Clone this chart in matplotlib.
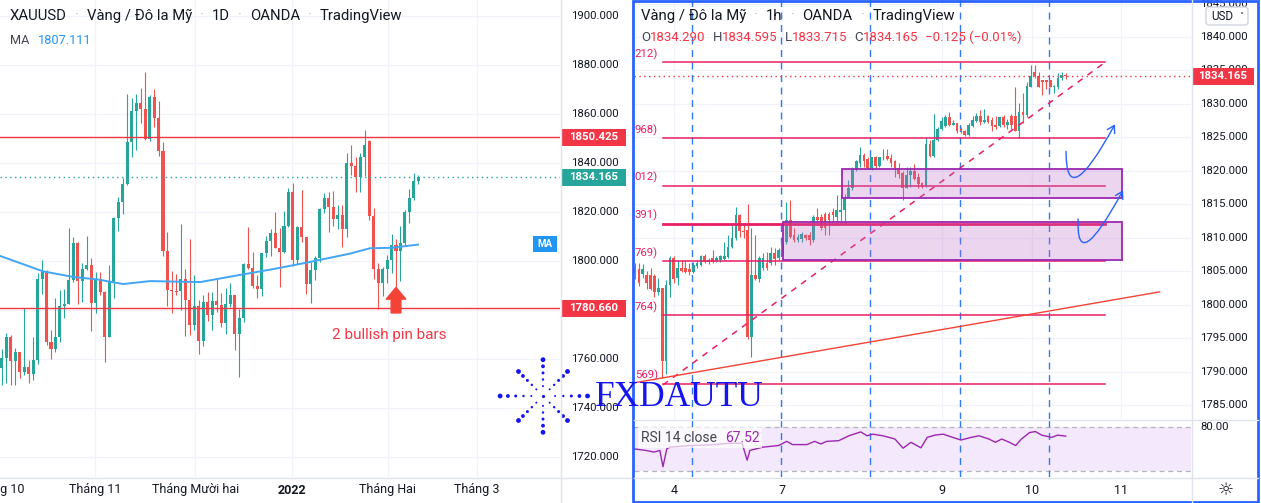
import numpy as np
import matplotlib
matplotlib.use("Agg")
import matplotlib.pyplot as plt
from matplotlib.patches import Rectangle, FancyBboxPatch, FancyArrowPatch
from matplotlib.path import Path
from matplotlib.lines import Line2D

plt.rcParams['font.family'] = ['Roboto', 'DejaVu Sans']

# ---------------- daily XAUUSD (left panel) ----------------
d_open = [1756.5, 1760.3, 1769.1, 1759.2, 1762.7, 1754.6, 1756.9, 1753.7, 1759.6, 1792.7,
          1795.6, 1766.8, 1764.1, 1769.1, 1781.8, 1782.6, 1792.2, 1807.5, 1792.0, 1796.7,
          1798.4, 1782.7, 1792.7, 1787.5, 1769.1, 1791.3, 1817.7, 1823.9, 1831.4, 1848.7,
          1861.4, 1864.6, 1861.9, 1849.8, 1867.1, 1858.2, 1845.0, 1804.2, 1788.2, 1787.8,
          1787.6, 1792.7, 1784.1, 1773.9, 1781.8, 1767.3, 1783.4, 1778.0, 1783.7, 1782.0,
          1774.8, 1782.4, 1786.1, 1770.1, 1776.6, 1798.8, 1797.3, 1789.9, 1788.4, 1803.1,
          1808.3, 1811.3, 1805.4, 1803.5, 1814.3, 1828.3, 1800.4, 1814.0, 1809.7, 1790.5,
          1796.3, 1801.1, 1821.1, 1825.9, 1822.2, 1817.2, 1818.8, 1813.1, 1840.2, 1838.8,
          1834.2, 1842.6, 1849.1, 1818.5, 1796.6, 1791.2, 1796.7, 1800.4, 1806.5, 1804.2,
          1807.2, 1820.1, 1825.6, 1832.8]
d_high = [1764.1, 1770.5, 1769.8, 1764.4, 1762.9, 1780.7, 1759.6, 1769.1, 1795.0, 1800.4,
          1796.3, 1771.8, 1784.8, 1788.2, 1788.6, 1813.6, 1809.9, 1807.9, 1799.0, 1810.3,
          1801.1, 1795.6, 1795.6, 1787.8, 1798.4, 1818.1, 1826.3, 1833.7, 1868.2, 1866.4,
          1868.2, 1870.5, 1877.0, 1867.8, 1870.2, 1865.3, 1848.7, 1812.0, 1795.9, 1794.6,
          1815.1, 1796.7, 1809.0, 1794.3, 1784.1, 1786.1, 1787.2, 1787.2, 1792.5, 1787.1,
          1788.9, 1790.9, 1786.3, 1780.3, 1799.3, 1814.0, 1803.5, 1794.3, 1803.4, 1810.2,
          1812.9, 1820.1, 1813.3, 1820.5, 1829.7, 1831.7, 1814.3, 1829.0, 1809.9, 1799.7,
          1802.0, 1821.5, 1827.9, 1828.3, 1828.6, 1822.9, 1822.9, 1844.0, 1847.4, 1842.6,
          1844.0, 1853.5, 1849.5, 1821.5, 1799.1, 1797.7, 1802.5, 1811.0, 1808.9, 1814.3,
          1820.8, 1829.3, 1835.8, 1835.2]
d_low = [1749.4, 1750.1, 1749.4, 1749.4, 1752.1, 1753.5, 1750.1, 1751.4, 1757.8, 1786.5,
         1765.7, 1760.0, 1762.7, 1766.8, 1776.6, 1782.3, 1791.6, 1782.3, 1783.4, 1796.3,
         1771.6, 1778.6, 1786.1, 1758.6, 1769.0, 1784.8, 1812.2, 1819.0, 1831.0, 1842.6,
         1845.3, 1856.5, 1849.5, 1849.0, 1854.8, 1843.0, 1802.2, 1781.8, 1778.6, 1786.1,
         1780.0, 1769.5, 1769.8, 1771.8, 1761.9, 1765.4, 1775.6, 1771.8, 1779.3, 1772.9,
         1770.1, 1781.4, 1763.7, 1752.8, 1775.2, 1796.6, 1788.9, 1784.8, 1785.7, 1801.5,
         1802.0, 1805.2, 1789.3, 1803.1, 1813.7, 1798.1, 1798.7, 1807.9, 1786.5, 1782.7,
         1792.2, 1799.7, 1819.5, 1812.0, 1814.3, 1813.1, 1805.6, 1810.0, 1835.1, 1828.3,
         1828.3, 1834.5, 1816.7, 1792.5, 1780.3, 1785.7, 1791.2, 1795.0, 1788.2, 1792.0,
         1806.6, 1815.7, 1824.9, 1831.5]
d_close = [1760.3, 1769.1, 1759.2, 1762.7, 1754.6, 1756.9, 1753.7, 1759.6, 1792.7, 1795.6,
           1766.8, 1764.1, 1769.1, 1781.8, 1782.6, 1792.2, 1807.5, 1792.0, 1796.7, 1798.4,
           1782.7, 1792.7, 1787.5, 1769.1, 1791.3, 1817.7, 1823.9, 1831.4, 1848.7, 1861.4,
           1864.6, 1861.9, 1849.8, 1867.1, 1858.2, 1845.0, 1804.2, 1788.2, 1787.8, 1787.6,
           1792.7, 1784.1, 1773.9, 1781.8, 1767.3, 1783.4, 1778.0, 1783.7, 1782.0, 1774.8,
           1782.4, 1786.1, 1770.1, 1776.6, 1798.8, 1797.3, 1789.9, 1788.4, 1803.1, 1808.3,
           1811.3, 1805.4, 1803.5, 1814.3, 1828.3, 1800.4, 1814.0, 1809.7, 1790.5, 1796.3,
           1801.1, 1821.1, 1825.9, 1822.2, 1817.2, 1818.8, 1813.1, 1840.2, 1838.8, 1834.2,
           1842.6, 1847.4, 1818.5, 1796.6, 1791.2, 1796.7, 1800.4, 1806.5, 1804.2, 1807.2,
           1820.1, 1825.6, 1832.8, 1834.165]
ma_idx = [-0.4, 9.2, 15.9, 21.3, 27.1, 33.1, 44.3, 52.8, 60.3, 67.7, 77.7, 82.2, 87.1, 92.9]
ma_val = [1802.1, 1795.8, 1793.5, 1792.5, 1790.6, 1791.8, 1791.4, 1794.2, 1796.6, 1799.2,
          1803.0, 1805.2, 1805.4, 1806.7]
month_pos = [-0.8, 20.8, 43.2, 64.8, 86.2, 106.1]
month_lab = ["Tháng 10", "Tháng 11", "Tháng Mười hai", "2022", "Tháng Hai", "Tháng 3"]
d_levels = [1850.425, 1780.660]
d_last = 1834.165
ma_last = 1807.111
pin_bar_idx = 88

# ---------------- hourly XAUUSD (right panel) ----------------
h_open = [
    1805.4, 1805.3, 1804.5, 1804.4, 1804.4, 1804.3, 1801.9, 1802.5, 1791.5, 1803.0,
    1806.9, 1804.0, 1805.4, 1805.4, 1805.3, 1804.8, 1805.7, 1805.9, 1807.3, 1806.3,
    1806.9, 1806.5, 1806.7, 1806.8, 1807.1, 1808.6, 1809.9, 1813.4, 1811.0, 1811.1,
    1795.2, 1804.4, 1803.9, 1805.5, 1806.2, 1806.2, 1807.7, 1806.9, 1807.7, 1809.4,
    1812.6, 1810.4, 1809.6, 1809.8, 1810.4, 1810.4, 1809.6, 1813.1, 1813.1, 1813.6,
    1813.6, 1813.9, 1813.1, 1813.9, 1814.1, 1816.0, 1817.4, 1820.1, 1821.2, 1822.4,
    1821.7, 1820.4, 1822.0, 1820.7, 1822.0, 1822.2, 1821.9, 1821.4, 1820.4, 1819.6,
    1817.4, 1819.3, 1820.0, 1819.1, 1818.2, 1817.7, 1824.0, 1822.2, 1824.6, 1826.2,
    1826.7, 1828.1, 1826.9, 1827.2, 1826.2, 1826.0, 1825.4, 1826.7, 1827.5, 1828.2,
    1827.3, 1828.2, 1827.6, 1826.9, 1826.7, 1828.0, 1826.8, 1828.2, 1828.2, 1826.0,
    1828.8, 1828.3, 1832.6, 1834.8, 1834.2, 1833.5, 1833.5, 1833.5, 1832.6, 1832.6,
    1833.8, 1834.29]
h_high = [
    1806.2, 1806.2, 1806.0, 1805.0, 1805.4, 1804.5, 1804.0, 1802.5, 1803.7, 1807.2,
    1807.2, 1806.7, 1806.7, 1806.7, 1806.2, 1806.4, 1806.6, 1807.4, 1807.5, 1806.9,
    1808.2, 1807.2, 1807.4, 1809.4, 1810.4, 1811.9, 1814.6, 1813.6, 1812.1, 1815.1,
    1811.4, 1810.4, 1807.2, 1807.7, 1807.9, 1808.6, 1808.4, 1808.4, 1810.1, 1815.4,
    1815.6, 1811.4, 1810.6, 1810.9, 1810.6, 1810.9, 1813.4, 1814.4, 1813.6, 1813.9,
    1813.9, 1814.4, 1816.4, 1816.6, 1816.6, 1818.6, 1820.6, 1821.6, 1823.6, 1822.6,
    1822.0, 1822.1, 1822.2, 1822.1, 1823.2, 1823.2, 1822.5, 1821.6, 1821.1, 1819.9,
    1820.5, 1820.5, 1821.0, 1819.6, 1818.4, 1824.9, 1824.6, 1828.5, 1826.6, 1828.1,
    1828.3, 1828.8, 1827.6, 1827.2, 1826.6, 1826.1, 1827.1, 1828.2, 1828.7, 1829.1,
    1829.2, 1828.3, 1828.1, 1828.2, 1828.1, 1828.3, 1827.8, 1828.5, 1832.6, 1830.1,
    1831.6, 1833.3, 1835.8, 1835.8, 1834.8, 1833.6, 1833.6, 1833.6, 1832.8, 1834.6,
    1834.7, 1834.595]
h_low = [
    1803.9, 1802.8, 1804.0, 1802.4, 1802.2, 1801.2, 1801.4, 1789.0, 1789.7, 1801.2,
    1803.2, 1803.0, 1804.8, 1804.7, 1804.4, 1804.7, 1805.5, 1805.8, 1806.2, 1806.0,
    1806.2, 1806.3, 1806.4, 1806.6, 1806.9, 1808.4, 1809.6, 1810.1, 1809.9, 1794.9,
    1792.2, 1803.7, 1803.4, 1805.2, 1805.2, 1805.9, 1805.9, 1806.6, 1807.4, 1809.1,
    1809.9, 1809.4, 1809.4, 1809.4, 1809.6, 1808.9, 1809.4, 1812.4, 1811.2, 1810.4,
    1810.4, 1811.9, 1811.9, 1812.2, 1812.2, 1815.9, 1817.1, 1819.9, 1820.6, 1820.6,
    1820.2, 1820.1, 1820.4, 1820.6, 1821.6, 1821.6, 1820.6, 1819.1, 1818.9, 1815.6,
    1817.4, 1817.6, 1818.6, 1817.5, 1817.5, 1817.6, 1822.1, 1822.1, 1824.4, 1826.1,
    1826.6, 1826.7, 1826.8, 1825.7, 1825.7, 1825.2, 1825.2, 1826.6, 1827.3, 1826.8,
    1827.1, 1827.1, 1825.9, 1826.3, 1826.5, 1826.6, 1826.3, 1826.2, 1826.0, 1824.9,
    1827.1, 1828.1, 1832.5, 1833.8, 1832.5, 1831.3, 1832.3, 1832.5, 1831.6, 1832.3,
    1833.6, 1833.715]
h_close = [
    1804.5, 1803.3, 1805.3, 1803.2, 1802.3, 1801.9, 1802.5, 1791.5, 1803.0, 1806.9,
    1803.9, 1805.4, 1805.0, 1804.9, 1804.8, 1805.9, 1806.2, 1807.3, 1806.4, 1806.6,
    1806.4, 1807.0, 1807.3, 1807.3, 1808.6, 1809.9, 1813.4, 1811.0, 1810.8, 1795.2,
    1804.4, 1803.9, 1806.9, 1806.9, 1805.5, 1807.7, 1806.8, 1808.1, 1809.4, 1812.6,
    1810.1, 1809.6, 1810.1, 1810.5, 1809.9, 1809.6, 1813.1, 1812.6, 1811.4, 1811.4,
    1812.6, 1813.4, 1814.1, 1814.2, 1816.0, 1817.4, 1820.2, 1821.4, 1822.4, 1821.5,
    1820.4, 1822.0, 1820.7, 1822.0, 1822.1, 1821.8, 1821.2, 1820.4, 1819.5, 1817.4,
    1819.4, 1820.0, 1818.7, 1818.0, 1817.6, 1824.0, 1822.2, 1824.6, 1826.3, 1827.4,
    1828.1, 1826.8, 1827.1, 1825.9, 1825.9, 1825.4, 1826.9, 1827.6, 1828.2, 1827.3,
    1827.6, 1827.3, 1826.7, 1826.6, 1828.0, 1826.8, 1827.3, 1826.8, 1826.0, 1828.8,
    1828.3, 1832.7, 1834.2, 1834.1, 1832.6, 1833.3, 1833.2, 1832.6, 1832.7, 1833.8,
    1834.3, 1834.165]
h_ohlc_text = ["1834.290", "1834.595", "1833.715", "1834.165", "\u22120.125 (\u22120.01%)"]
rsi_idx = [-0.3, 2.8, 4.9, 6.4, 7.2, 8.2, 9.0, 14.2, 19.3, 24.5, 27.6, 28.9, 29.6, 32.9, 37.0,
           39.1, 40.6, 44.3, 46.3, 47.9, 49.4, 52.5, 55.1, 58.2, 59.8, 61.3, 63.9, 67.0, 69.1,
           71.1, 73.7, 75.3, 77.3, 79.4, 81.4, 84.0, 86.6, 88.7, 91.2, 92.9, 94.5, 96.5, 98.1,
           99.6, 101.7, 103.2, 104.8, 107.4, 108.9, 111.0]
rsi_val = [50.2, 48.0, 45.8, 48.0, 25.8, 50.2, 52.5, 54.7, 55.6, 57.8, 57.8, 34.7, 48.0, 52.5,
           54.7, 60.4, 56.0, 56.0, 60.4, 56.9, 60.4, 61.3, 68.0, 73.3, 68.0, 70.2, 68.0, 63.6,
           51.1, 59.1, 51.6, 65.8, 68.9, 70.2, 66.7, 62.2, 65.8, 68.0, 63.6, 59.1, 63.6, 59.1,
           54.7, 63.6, 72.4, 73.8, 68.9, 65.8, 68.9, 67.52]
day_pos = [10.1, 37.9, 79.1, 102.3, 125.3]
day_lab = ["4", "7", "9", "10", "11"]
session_idx = [14.7, 37.6, 60.6, 83.8, 106.7]
fib_levels = [1836.2, 1824.9, 1817.8, 1812.1, 1806.5, 1798.4, 1788.2]
fib_labels = ["212)", "968)", "012)", "391)", "769)", "764)", "569)"]
fib_span = [7.2, 121.1]
zone_upper = [53.3, 125.4, 1816.0, 1820.3]
zone_lower = [38.1, 125.4, 1806.6, 1812.3]
trend_dash = [(7.2, 1788.0), (121.1, 1836.2)]
trend_solid = [(-0.3, 1788.3), (135.2, 1801.9)]
arrow1 = [(111.1, 1822.9), (114.2, 1819.2), (123.7, 1826.95)]
arrow2 = [(114.2, 1812.8), (116.8, 1809.5), (125.8, 1817.1)]

GREEN = '#26a69a'
RED = '#ef5350'
TAGRED = '#f23645'
DARK = '#131722'
GRID = '#f0f3fa'
AXLINE = '#e0e3eb'

W, H = 1261, 503
fig = plt.figure(figsize=(W / 100, H / 100), dpi=100)


def add_ax(l, t, r, b):
    return fig.add_axes([l / W, (H - b) / H, (r - l) / W, (b - t) / H])


def clean(ax):
    ax.set_xticks([])
    ax.set_yticks([])
    for s in ax.spines.values():
        s.set_visible(False)
    ax.patch.set_alpha(0)


def draw_candles(ax, o, h, l, c, width, min_body):
    o, h, l, c = (np.asarray(a, float) for a in (o, h, l, c))
    x = np.arange(len(o))
    col = np.where(c >= o, GREEN, RED)
    ax.vlines(x, l, h, colors=col, lw=0.8, zorder=3)
    raw = np.abs(c - o)
    body = np.maximum(raw, min_body)
    ax.bar(x, body, bottom=np.minimum(o, c) - (body - raw) / 2, width=width,
           color=col, lw=0, zorder=4)


# ---------- left daily chart ----------
axL = add_ax(0, 0, 560, 477)
axL.set_xlim(-0.38, 124.6)
axL.set_ylim(1711.84, 1906.53)
clean(axL)
for v in range(1720, 1901, 20):
    axL.axhline(v, color=GRID, lw=0.9, zorder=0)
for p in month_pos:
    axL.axvline(p, color=GRID, lw=0.9, zorder=0)
draw_candles(axL, d_open, d_high, d_low, d_close, 0.68, 0.35)
axL.plot(ma_idx, ma_val, color='#42a5f5', lw=1.4, zorder=5)
for lv in d_levels:
    axL.axhline(lv, color=TAGRED, lw=1.0, zorder=6)
axL.axhline(d_last, color=GREEN, lw=1.0, ls=(0, (1, 2.5)), zorder=6)
axL.annotate('', xy=(pin_bar_idx, 1789.2), xytext=(pin_bar_idx, 1778.8),
             arrowprops=dict(arrowstyle='simple,head_length=0.6,head_width=1.0,tail_width=0.5',
                             color='#f44336', mutation_scale=14, shrinkA=0, shrinkB=0), zorder=7)
axL.text(86.4, 1769.8, "2 bullish pin bars", color=TAGRED, fontsize=11,
         ha='center', va='center', zorder=7)
for v in range(1720, 1901, 20):
    axL.annotate(f"{v:.3f}", xy=(1.0, v), xycoords=('axes fraction', 'data'),
                 xytext=(11, 0), textcoords='offset pixels', ha='left', va='center',
                 fontsize=8.2, color=DARK, annotation_clip=False)
for p, lab in zip(month_pos, month_lab):
    axL.annotate(lab, xy=(p, 0), xycoords=('data', 'axes fraction'),
                 xytext=(0, -13), textcoords='offset pixels', ha='center', va='center',
                 fontsize=9, color=DARK, fontweight='bold' if lab == "2022" else 'normal',
                 annotation_clip=False)

# ---------- right hourly chart ----------
axR = add_ax(634, 0, 1191, 419)
axR.set_xlim(-0.26, 143.3)
axR.set_ylim(1782.90, 1845.53)
clean(axR)
for v in range(1785, 1846, 5):
    axR.axhline(v, color=GRID, lw=0.9, zorder=0)
for p in day_pos:
    axR.axvline(p, color=GRID, lw=0.9, zorder=0)
for p in session_idx:
    axR.axvline(p, color='#3179f5', lw=1.0, ls=(0, (5, 4)), zorder=1)
draw_candles(axR, h_open, h_high, h_low, h_close, 0.7, 0.12)
for lv, lab in zip(fib_levels, fib_labels):
    axR.plot(fib_span, [lv, lv], color='#e91e63', lw=2.0 if lab == "391)" else 1.1, zorder=6)
    axR.annotate(lab, xy=(fib_span[0], lv), xytext=(-5, 8), textcoords='offset pixels',
                 ha='right', va='center', fontsize=8.2, color='#e91e63', annotation_clip=False)
for z in (zone_upper, zone_lower):
    axR.add_patch(Rectangle((z[0], z[2]), z[1] - z[0], z[3] - z[2],
                            facecolor=(0.73, 0.41, 0.78, 0.28), edgecolor='#9c27b0',
                            lw=1.3, zorder=7))
axR.plot([p[0] for p in trend_dash], [p[1] for p in trend_dash], color='#e91e63',
         lw=1.1, ls=(0, (4, 4)), zorder=6)
axR.plot([p[0] for p in trend_solid], [p[1] for p in trend_solid], color='#f44336',
         lw=1.0, zorder=6)
axR.axhline(h_close[-1], color=TAGRED, lw=1.0, ls=(0, (1, 2.5)), zorder=6)
for arr in (arrow1, arrow2):
    p0, b, p2 = (np.array(a) for a in arr)
    ctrl = 2 * b - (p0 + p2) / 2
    path = Path([tuple(p0), tuple(ctrl), tuple(p2)], [Path.MOVETO, Path.CURVE3, Path.CURVE3])
    axR.add_patch(FancyArrowPatch(path=path, arrowstyle='->,head_length=5,head_width=3',
                                  color='#2962ff', lw=1.0, zorder=8))
for v in range(1785, 1846, 5):
    axR.annotate(f"{v:.3f}", xy=(1.0, v), xycoords=('axes fraction', 'data'),
                 xytext=(9, 0), textcoords='offset pixels', ha='left', va='center',
                 fontsize=8.2, color=DARK, annotation_clip=False)

# ---------- RSI pane ----------
axS = add_ax(634, 419, 1191, 477)
axS.set_xlim(-0.26, 143.3)
axS.set_ylim(11.8, 90.9)
clean(axS)
axS.axhspan(20, 80, color='#f3e8fc', zorder=0, lw=0)
for lv in (80, 20):
    axS.axhline(lv, color='#b2b5be', lw=0.9, ls=(0, (4, 3)), zorder=1)
for p in session_idx:
    axS.axvline(p, color='#3179f5', lw=1.0, ls=(0, (5, 4)), zorder=1)
axS.plot(rsi_idx, rsi_val, color='#9c27b0', lw=1.0, zorder=3)
axS.annotate("80.00", xy=(1.0, 80), xycoords=('axes fraction', 'data'),
             xytext=(9, 0), textcoords='offset pixels', ha='left', va='center',
             fontsize=8.2, color=DARK, annotation_clip=False)
for p, lab in zip(day_pos, day_lab):
    axS.annotate(lab, xy=(p, 0), xycoords=('data', 'axes fraction'),
                 xytext=(0, -13), textcoords='offset pixels', ha='center', va='center',
                 fontsize=9, color=DARK, annotation_clip=False)

# ---------- overlay (chrome, tags, watermark) ----------
ov = fig.add_axes([0, 0, 1, 1])
ov.set_xlim(0, W)
ov.set_ylim(H, 0)
ov.axis('off')
ov.patch.set_visible(False)
ov.set_zorder(20)
renderer = fig.canvas.get_renderer()


def line_px(x0, y0, x1, y1, color=AXLINE, lw=1.0):
    ov.add_line(Line2D([x0, x1], [y0, y1], color=color, lw=lw))


line_px(560.5, 0, 560.5, 503)
line_px(0, 477.5, 631, 477.5)
line_px(1191.5, 0, 1191.5, 503)
line_px(634, 419.5, 1258, 419.5)
line_px(634, 477.5, 1258, 477.5)


def ypix(ax, v):
    return H - ax.transData.transform((0, v))[1]


def tag(ax, v, text, color, x0, x1, h=17, fs=8.2):
    y = ypix(ax, v)
    ov.add_patch(Rectangle((x0, y - h / 2), x1 - x0, h, color=color, lw=0))
    ov.text((x0 + x1) / 2, y, text, color='white', fontsize=fs, fontweight='bold',
            ha='center', va='center')


tag(axL, d_levels[0], f"{d_levels[0]:.3f}", TAGRED, 561, 626)
tag(axL, d_last, f"{d_last:.3f}", GREEN, 561, 626)
tag(axL, d_levels[1], f"{d_levels[1]:.3f}", TAGRED, 561, 626)
tag(axL, ma_last, "MA", '#2196f3', 533, 557, h=16, fs=7)
tag(axR, h_close[-1], f"{h_close[-1]:.3f}", TAGRED, 1192, 1254)


def rich(x, y, parts, fs, gap=5):
    for i, (s, col) in enumerate(parts):
        t = ov.text(x, y, s, color=col, fontsize=fs, ha='left', va='center')
        bb = t.get_window_extent(renderer=renderer)
        x += bb.width + (gap if i < len(parts) - 1 else 0)


SEP = '#b2b5be'
rich(10, 16, [("XAUUSD", DARK), ("·", SEP), ("Vàng / Đô la Mỹ", DARK), ("·", SEP), ("1D", DARK),
              ("·", SEP), ("OANDA", DARK), ("·", SEP), ("TradingView", DARK)], 10.7, gap=8)
rich(10, 40, [("MA", '#434651'), ("1807.111", '#2196f3')], 9.2, gap=9)
rich(641, 16, [("Vàng / Đô la Mỹ", DARK), ("·", SEP), ("1h", DARK), ("·", SEP), ("OANDA", DARK),
               ("·", SEP), ("TradingView", DARK)], 10.7, gap=8)

x = 641
for letter, val in zip(["O", "H", "L", "C", ""], h_ohlc_text):
    if letter:
        t = ov.text(x, 37, letter, color='#434651', fontsize=9.5, ha='left', va='center')
        x += t.get_window_extent(renderer=renderer).width
    t = ov.text(x, 37, val, color=TAGRED, fontsize=9.5, ha='left', va='center')
    x += t.get_window_extent(renderer=renderer).width + 7

# RSI legend
ov.add_patch(Rectangle((638, 427), 124, 21, color='white', alpha=0.7, lw=0))
rich(641, 437.5, [("RSI 14 close", '#434651'), ("67.52", '#9c27b0')], 10, gap=8)

# USD button + gear
ov.add_patch(FancyBboxPatch((1206, 7), 42, 18, boxstyle='round,pad=0,rounding_size=3',
                            facecolor='white', edgecolor='#d1d4dc', lw=1))
ov.text(1222, 16.5, "USD", color=DARK, fontsize=8.4, ha='center', va='center')
ov.text(1241, 16, "\u02c5", color=DARK, fontsize=6, ha='center', va='center',
        family='DejaVu Sans')
ov.text(1226, 490, "\u263c", color=DARK, fontsize=13, ha='center', va='center',
        family='DejaVu Sans')

# right panel border
ov.add_patch(Rectangle((632.5, 1.2), 625.5, 500.6, fill=False, edgecolor='#2962ff', lw=2.0))

# watermark
cx, cy = 543, 396
ray_r = [9, 15, 21, 27, 33]
ray_s = [1.0, 1.2, 1.5, 1.9, 2.4]
for ang in range(0, 360, 45):
    a = np.deg2rad(ang)
    ext = {0: 1.35, 180: 1.3, 90: 1.1, 270: 1.1}.get(ang, 1.05)
    xs = [cx + r * ext * np.cos(a) for r in ray_r]
    ys = [cy - r * ext * np.sin(a) for r in ray_r]
    ov.scatter(xs, ys, s=[(2 * s * 0.72) ** 2 for s in ray_s], color='#1515f0', lw=0)
ov.scatter([cx], [cy], s=(2 * 1.6 * 0.72) ** 2, color='#1515f0', lw=0)
ov.text(595, 397, "FXDAUTU", family='Liberation Serif', fontsize=25.5, color='#1515f0',
        ha='left', va='center')

fig.savefig("out.png", dpi=100)
